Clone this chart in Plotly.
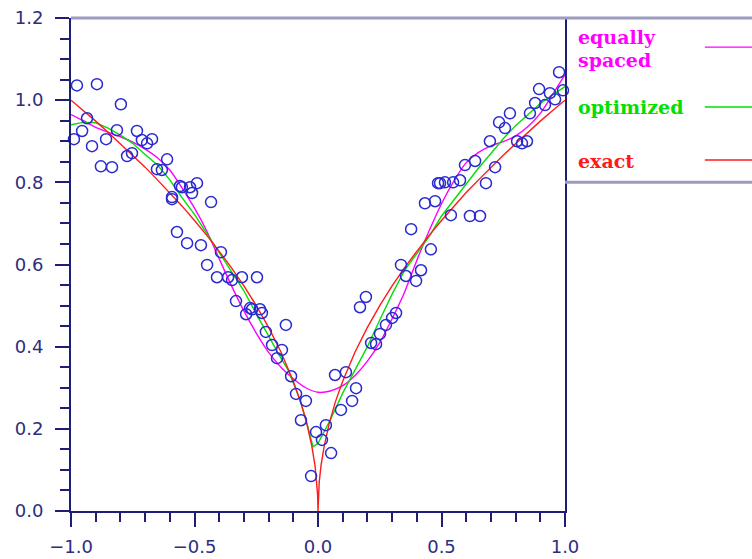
import plotly.graph_objects as go

# ---------------- data ----------------
pts_x = [-0.976, -0.895, -0.798, -0.935, -0.955, -0.988, -0.915, -0.858, -0.814, -0.879,
         -0.834, -0.733, -0.713, -0.692, -0.672, -0.773, -0.753, -0.611, -0.652, -0.632,
         -0.559, -0.591, -0.518, -0.551, -0.490, -0.510, -0.591, -0.433, -0.571, -0.530,
         -0.474, -0.393, -0.449, -0.409, -0.364, -0.348, -0.308, -0.247, -0.332, -0.275,
         -0.235, -0.291, -0.267, -0.227, -0.130, -0.211, -0.186, -0.146, -0.166, -0.109,
         -0.089, -0.049, 0.069, -0.069, -0.008, 0.032, 0.016, 0.053, -0.028, 0.093,
         0.138, 0.154, 0.113, 0.170, 0.194, 0.215, 0.235, 0.251, 0.275, 0.300,
         0.316, 0.336, 0.356, 0.397, 0.417, 0.377, 0.457, 0.433, 0.474, 0.486,
         0.494, 0.514, 0.547, 0.575, 0.538, 0.615, 0.656, 0.595, 0.636, 0.680,
         0.717, 0.696, 0.733, 0.757, 0.777, 0.806, 0.826, 0.846, 0.858, 0.879,
         0.919, 0.895, 0.939, 0.960, 0.976, 0.992]
pts_y = [1.036, 1.039, 0.990, 0.956, 0.925, 0.905, 0.888, 0.905, 0.927, 0.839,
         0.837, 0.925, 0.903, 0.895, 0.905, 0.864, 0.871, 0.856, 0.832, 0.830,
         0.791, 0.764, 0.788, 0.788, 0.798, 0.774, 0.759, 0.752, 0.679, 0.652,
         0.647, 0.630, 0.599, 0.569, 0.569, 0.562, 0.569, 0.569, 0.511, 0.494,
         0.491, 0.479, 0.491, 0.482, 0.453, 0.436, 0.404, 0.392, 0.372, 0.328,
         0.285, 0.268, 0.331, 0.221, 0.192, 0.209, 0.173, 0.141, 0.085, 0.246,
         0.268, 0.299, 0.338, 0.496, 0.521, 0.409, 0.406, 0.431, 0.453, 0.470,
         0.482, 0.599, 0.572, 0.560, 0.586, 0.686, 0.637, 0.749, 0.754, 0.798,
         0.798, 0.800, 0.800, 0.805, 0.720, 0.718, 0.718, 0.842, 0.852, 0.798,
         0.837, 0.900, 0.946, 0.932, 0.968, 0.900, 0.895, 0.900, 0.968, 0.993,
         0.988, 1.027, 1.017, 1.002, 1.068, 1.024]

exact_x = [-1.0, -0.95, -0.9, -0.85, -0.8, -0.75, -0.7, -0.65, -0.6, -0.55, -0.5, -0.45,
           -0.4, -0.35, -0.3, -0.25, -0.2, -0.15, -0.1, -0.07, -0.045, -0.025, -0.012,
           -0.005, -0.0015, 0.0, 0.0015, 0.005, 0.012, 0.025, 0.045, 0.07, 0.1, 0.15,
           0.2, 0.25, 0.3, 0.35, 0.4, 0.45, 0.5, 0.55, 0.6, 0.65, 0.7, 0.75, 0.8, 0.85,
           0.9, 0.95, 1.0]
exact_y = [1.000, 0.975, 0.949, 0.922, 0.894, 0.866, 0.837, 0.806, 0.775, 0.742, 0.707,
           0.671, 0.632, 0.592, 0.548, 0.500, 0.447, 0.387, 0.316, 0.265, 0.212, 0.158,
           0.110, 0.071, 0.039, 0.000, 0.039, 0.071, 0.110, 0.158, 0.212, 0.265, 0.316,
           0.387, 0.447, 0.500, 0.548, 0.592, 0.632, 0.671, 0.707, 0.742, 0.775, 0.806,
           0.837, 0.866, 0.894, 0.922, 0.949, 0.975, 1.000]

opt_x = [-1.0, -0.95, -0.9, -0.85, -0.8, -0.75, -0.7, -0.65, -0.6, -0.55, -0.5, -0.45,
         -0.4, -0.35, -0.3, -0.25, -0.2, -0.15, -0.12, -0.1, -0.073, -0.05, -0.02,
         0.0, 0.05, 0.1, 0.15, 0.2, 0.25, 0.3, 0.35, 0.4, 0.45, 0.5, 0.55, 0.6,
         0.65, 0.7, 0.75, 0.8, 0.85, 0.9, 0.95, 1.0]
opt_y = [0.940, 0.946, 0.945, 0.932, 0.915, 0.895, 0.868, 0.842, 0.806, 0.762, 0.722,
         0.676, 0.628, 0.584, 0.536, 0.480, 0.425, 0.372, 0.342, 0.312, 0.270, 0.225,
         0.156, 0.165, 0.222, 0.287, 0.345, 0.400, 0.465, 0.528, 0.585, 0.625, 0.668,
         0.718, 0.757, 0.797, 0.835, 0.870, 0.906, 0.938, 0.966, 0.992, 1.013, 1.033]

eq_x = [-1.0, -0.95, -0.9, -0.85, -0.8, -0.75, -0.7, -0.65, -0.6, -0.55, -0.5, -0.45,
        -0.4, -0.35, -0.3, -0.25, -0.2, -0.15, -0.1, -0.05, 0.0, 0.05, 0.1, 0.15,
        0.2, 0.25, 0.3, 0.35, 0.4, 0.45, 0.5, 0.55, 0.6, 0.65, 0.7, 0.75, 0.8, 0.85,
        0.9, 0.95, 1.0]
eq_y = [0.965, 0.950, 0.934, 0.922, 0.911, 0.898, 0.881, 0.860, 0.830, 0.786, 0.737,
        0.681, 0.614, 0.548, 0.487, 0.433, 0.386, 0.350, 0.322, 0.300, 0.289, 0.292,
        0.305, 0.330, 0.365, 0.410, 0.468, 0.532, 0.610, 0.682, 0.748, 0.803, 0.848,
        0.873, 0.889, 0.899, 0.913, 0.936, 0.968, 1.014, 1.062]

legend_texts = ["equally", "spaced", "optimized", "exact"]
legend_text_colors = ["#ff00ff", "#ff00ff", "#00e000", "#ff1a1a"]
legend_colors = ["#ff00ff", "#00e000", "#ff1a1a"]

NAVY = "#1e1e78"
TICKC = "#2d2d80"

fig = go.Figure()
fig.add_trace(go.Scatter(x=eq_x, y=eq_y, mode="lines", line=dict(color=legend_colors[0], width=1.4, shape="spline", smoothing=0.6), showlegend=False))
fig.add_trace(go.Scatter(x=opt_x, y=opt_y, mode="lines", line=dict(color=legend_colors[1], width=1.4), showlegend=False))
fig.add_trace(go.Scatter(x=exact_x, y=exact_y, mode="lines", line=dict(color=legend_colors[2], width=1.4), showlegend=False))
fig.add_trace(go.Scatter(x=pts_x, y=pts_y, mode="markers",
                         marker=dict(symbol="circle-open", size=11, color="#2a2ad0", line=dict(width=1.5, color="#2a2ad0")),
                         showlegend=False, cliponaxis=False))

# legend (text left, line right) and framing lines
text_y = [0.9615, 0.915, 0.8195, 0.710]
for lab, col, ty in zip(legend_texts, legend_text_colors, text_y):
    fig.add_annotation(x=1.022, y=ty, xref="paper", yref="paper", text="<b>" + lab + "</b>",
                       showarrow=False, xanchor="left", yanchor="middle", align="left",
                       font=dict(family="DejaVu Serif", size=19, color=col))
line_y = [0.941, 0.8195, 0.712]
for col, ly in zip(legend_colors, line_y):
    fig.add_shape(type="line", xref="paper", yref="paper", x0=1.283, x1=1.38, y0=ly, y1=ly,
                  line=dict(color=col, width=1.4))

GRAY = "#9c9cc0"
fig.add_shape(type="line", xref="paper", yref="paper", x0=0, x1=1.38, y0=1.0, y1=1.0,
              line=dict(color=GRAY, width=3))
fig.add_shape(type="line", xref="paper", yref="paper", x0=1.0, x1=1.38, y0=0.667, y1=0.667,
              line=dict(color=GRAY, width=3))

fig.update_layout(
    width=752, height=559,
    margin=dict(l=71, r=187, t=18, b=48, autoexpand=False),
    plot_bgcolor="white", paper_bgcolor="white",
    showlegend=False,
    xaxis=dict(range=[-1, 1], showgrid=False, zeroline=False, automargin=False,
               showline=True, linecolor=NAVY, linewidth=2,
               ticks="outside", ticklen=14, tickwidth=2, tickcolor=NAVY,
               tickmode="array", tickvals=[-1, -0.5, 0, 0.5, 1],
               ticktext=["\u22121.0", "\u22120.5", "0.0", "0.5", "1.0"],
               tickfont=dict(family="DejaVu Sans", size=18, color=TICKC),
               ticklabelstandoff=4,
               minor=dict(dtick=0.1, tick0=0, ticks="outside", ticklen=9, tickwidth=2, tickcolor=NAVY, showgrid=False)),
    yaxis=dict(range=[0, 1.2], showgrid=False, zeroline=False, automargin=False,
               showline=True, linecolor=NAVY, linewidth=2, mirror=True,
               ticks="outside", ticklen=14, tickwidth=2, tickcolor=NAVY,
               tickmode="array", tickvals=[0, 0.2, 0.4, 0.6, 0.8, 1.0, 1.2],
               ticktext=["0.0", "0.2", "0.4", "0.6", "0.8", "1.0", "1.2"],
               tickfont=dict(family="DejaVu Sans", size=18, color=TICKC),
               ticklabelstandoff=8,
               minor=dict(dtick=0.05, tick0=0, ticks="outside", ticklen=9, tickwidth=2, tickcolor=NAVY, showgrid=False)),
)

fig.write_html("out.html")
